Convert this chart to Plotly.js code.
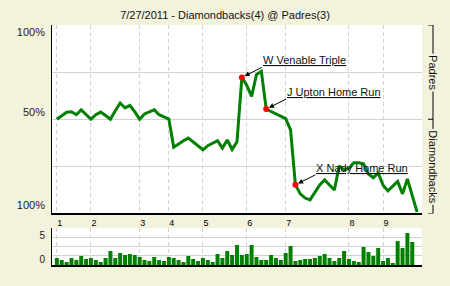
<!DOCTYPE html>
<html>
<head>
<meta charset="utf-8">
<script src="https://cdn.plot.ly/plotly-3.0.1.min.js"></script>
<style>
html,body{margin:0;padding:0;background:#f3f2dc;}
#chart{width:450px;height:286px;}
</style>
</head>
<body>
<div id="chart"></div>
<script>
// Win probability (Padres share) after each play, index 0..74
const winProb = [0.50,0.52,0.537,0.54,0.524,0.55,0.525,0.50,0.524,0.538,0.52,0.50,0.545,0.586,0.56,0.573,0.54,0.50,0.528,0.537,
  0.55,0.524,0.513,0.501,0.352,0.37,0.386,0.40,0.38,0.356,0.338,0.36,0.375,0.386,0.347,0.39,0.34,0.38,0.722,0.68,
  0.621,0.737,0.754,0.554,0.541,0.527,0.515,0.503,0.444,0.152,0.104,0.082,0.072,0.109,0.152,0.178,0.152,0.125,0.253,0.23,
  0.24,0.269,0.269,0.263,0.21,0.19,0.215,0.15,0.12,0.146,0.17,0.104,0.183,0.095,0.008];
// Leverage per play, index 0..73
const leverage = [7,5,3,7,5,9,6,7,5,3,7,14,7,12,10,11,10,8,5,4,8,5,4,8,7,5,3,9,6,4,7,5,3,11,7,14,10,20,10,11,
  20,8,5,5,10,7,5,12,19,4,5,6,6,7,9,11,7,4,7,14,6,4,3,18,13,9,17,4,7,2,24,17,32,23];
const inningStarts = [0,7,17,23,30,39,47,60,67];
const inningLabels = ['1','2','3','4','5','6','7','8','9'];
const eventIdx = [38,43,49];
const eventLabels = ['W Venable Triple','J Upton Home Run','X Nady Home Run'];
const winTickVals = [0.96,0.54,0.045];
const winTickText = ['100%','50%','100%'];
const levTickVals = [30,6];
const levTickText = ['5','0'];
const teamLabels = ['Padres','Diamondbacks'];
const title = '7/27/2011 - Diamondbacks(4) @ Padres(3)';

const plays = winProb.map((_, i) => i);
const barX = leverage.map((_, i) => i);

const FONT = 'Liberation Sans, Arial, sans-serif';
const GREEN = '#008000';
const GRID = '#d2d2d2';
const BG = '#f3f2dc';

const traces = [
  {x: plays, y: winProb, mode: 'lines', line: {color: GREEN, width: 3}, xaxis: 'x', yaxis: 'y', hoverinfo: 'skip'},
  {x: eventIdx, y: eventIdx.map(i => winProb[i]), mode: 'markers', marker: {color: '#ff0000', size: 6}, xaxis: 'x', yaxis: 'y', hoverinfo: 'skip'},
  {x: plays, y: winProb, mode: 'lines', opacity: 0, xaxis: 'x', yaxis: 'y3', hoverinfo: 'skip'},
  {x: barX, y: leverage, type: 'bar', marker: {color: GREEN, line: {width: 0}}, width: 0.82, xaxis: 'x2', yaxis: 'y2', hoverinfo: 'skip'},
  {x: barX, y: leverage, mode: 'lines', opacity: 0, xaxis: 'x2', yaxis: 'y4', hoverinfo: 'skip'}
];

const xCommon = {
  range: [-1, 75], tickvals: inningStarts, showgrid: true, gridcolor: GRID, griddash: '4px,3px', gridwidth: 1,
  zeroline: false, showline: true, linecolor: '#000', linewidth: 2, ticks: '', fixedrange: true
};

const annotations = eventIdx.map((idx, k) => ({
  x: idx, y: winProb[idx], xref: 'x', yref: 'y', text: eventLabels[k],
  showarrow: true, ax: 20, ay: -10, xanchor: 'left', yanchor: 'bottom',
  arrowhead: 2, arrowsize: 1, arrowwidth: 1, arrowcolor: '#000', standoff: 3, borderpad: 0,
  font: {family: FONT, size: 11, color: '#111', lineposition: 'under'}
}));
teamLabels.forEach((t, k) => annotations.push({
  x: 1, xref: 'paper', xshift: 11, xanchor: 'center', y: k === 0 ? 0.75 : 0.25, yref: 'y', yanchor: 'middle',
  text: t, textangle: 90, showarrow: false, bgcolor: BG, borderpad: 1, font: {family: FONT, size: 11, color: '#111'}
}));

const shapes = [
  {type: 'line', xref: 'paper', xsizemode: 'pixel', xanchor: 1, x0: 11, x1: 11, yref: 'y', y0: 0, y1: 1, line: {color: '#000', width: 1}},
  ...[1, 0.5, 0].map(v => ({type: 'line', xref: 'paper', xsizemode: 'pixel', xanchor: 1, x0: 6, x1: 11, yref: 'y', y0: v, y1: v, line: {color: '#000', width: 1}}))
];

const layout = {
  width: 450, height: 286,
  paper_bgcolor: BG, plot_bgcolor: '#ffffff',
  margin: {l: 52, r: 28, t: 25, b: 21},
  showlegend: false,
  font: {family: FONT, size: 11, color: '#222'},
  title: {text: title, font: {family: FONT, size: 11, color: '#111'}, x: 0.5, xref: 'container', y: 1 - 15/286, yref: 'container', yanchor: 'middle'},
  xaxis: Object.assign({}, xCommon, {anchor: 'y', ticktext: inningLabels, showticklabels: true, ticklabelshift: 3,
    tickfont: {family: FONT, size: 9, color: '#000'}}),
  xaxis2: Object.assign({}, xCommon, {anchor: 'y2', showticklabels: false}),
  yaxis: {domain: [0.2146, 1], range: [0, 1], tickvals: [0.25, 0.5, 0.75, 1], showticklabels: false, showgrid: true,
    gridcolor: GRID, zeroline: false, showline: true, linecolor: '#000', linewidth: 1, ticks: '', fixedrange: true},
  yaxis3: {overlaying: 'y', anchor: 'x', range: [0, 1], tickvals: winTickVals, ticktext: winTickText, showgrid: false,
    zeroline: false, showline: false, ticks: '', ticklabelstandoff: 6, tickfont: {family: FONT, size: 11, color: '#222'}, fixedrange: true},
  yaxis2: {domain: [0, 0.154], range: [0, 37], tickvals: [9.25, 18.5, 27.75, 37], showticklabels: false, showgrid: true,
    gridcolor: GRID, zeroline: false, showline: true, linecolor: '#000', linewidth: 1, ticks: '', fixedrange: true},
  yaxis4: {overlaying: 'y2', anchor: 'x2', range: [0, 37], tickvals: levTickVals, ticktext: levTickText, showgrid: false,
    zeroline: false, showline: false, ticks: '', ticklabelstandoff: 6, tickfont: {family: FONT, size: 10, color: '#222'}, fixedrange: true},
  annotations: annotations,
  shapes: shapes
};

Plotly.newPlot('chart', traces, layout, {displayModeBar: false, staticPlot: true});
</script>
</body>
</html>
